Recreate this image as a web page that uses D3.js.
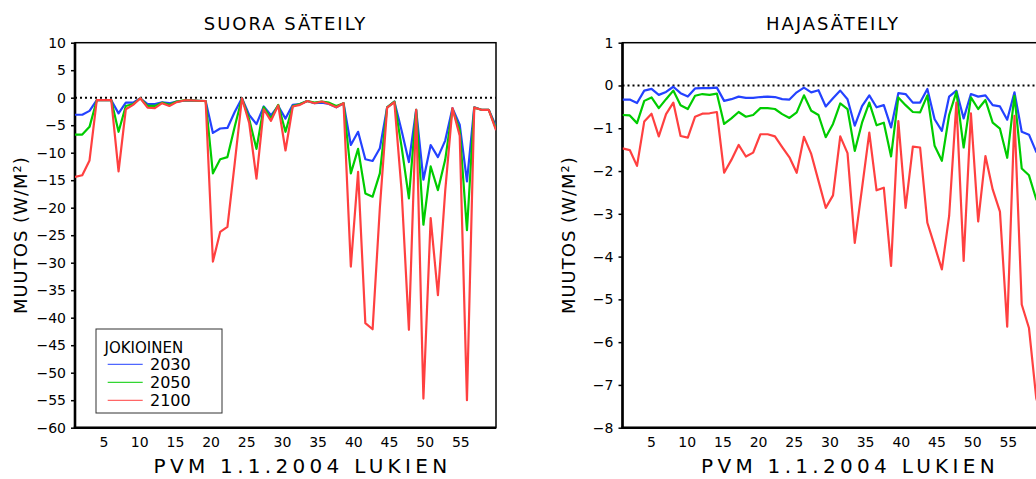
<!DOCTYPE html>
<meta charset="utf-8">
<style>
body { margin: 0; background: #fff; }
text { font-family: "DejaVu Sans", sans-serif; fill: #000; }
.line { fill: none; stroke-width: 2.2; stroke-linejoin: round; }
.zero { fill: none; stroke: #000; stroke-width: 2; stroke-dasharray: 2,3; }
.axis .domain { display: none; }
.axis line { stroke: #000; stroke-width: 1.5; }
.axis text { font-size: 14px; }
</style>
<body>
<svg width="1036" height="479"></svg>
<script src="https://d3js.org/d3.v7.min.js"></script>
<script>

var years = ["2030", "2050", "2100"];
var colors = ["#2442ff", "#00cc00", "#ff4040"];

var xTicks = [5, 10, 15, 20, 25, 30, 35, 40, 45, 50, 55];
var suoraTicks = [10, 5, 0, -5, -10, -15, -20, -25, -30, -35, -40, -45, -50, -55, -60];
var hajaTicks = [1, 0, -1, -2, -3, -4, -5, -6, -7, -8];

// suora säteily (direct radiation), W/m2
var suora2030 = [-3.1, -3.1, -2.4, -0.45, -0.45, -0.45, -2.85, -0.9, -0.9, -0.1,
  -1.15, -1.15, -0.85, -1.0, -0.7, -0.55, -0.5, -0.55, -0.6, -6.4,
  -5.6, -5.5, -2.6, -0.1, -3.15, -4.8, -1.6, -3.2, -1.5, -3.8,
  -1.3, -1.15, -0.6, -1.0, -0.9, -1.15, -1.75, -1.0, -8.6, -6.2,
  -11.2, -11.5, -9.2, -1.75, -0.7, -6.0, -11.7, -2.2, -14.9, -8.6,
  -10.8, -7.8, -1.9, -4.9, -15.2, -1.75, -2.2, -2.2, -5.2];
var suora2050 = [-6.7, -6.7, -5.3, -0.45, -0.45, -0.45, -6.2, -1.5, -1.15, -0.1,
  -1.5, -1.5, -0.9, -1.3, -0.7, -0.5, -0.5, -0.55, -0.6, -13.75,
  -11.2, -10.8, -5.3, -0.1, -3.9, -9.3, -1.7, -3.8, -1.3, -6.2,
  -1.5, -1.15, -0.6, -0.9, -0.7, -0.9, -1.5, -1.0, -13.75, -9.3,
  -17.4, -18.0, -13.75, -1.75, -0.7, -9.0, -18.3, -2.2, -23.1, -12.5,
  -16.8, -11.3, -2.1, -5.9, -24.1, -1.8, -2.2, -2.2, -5.6];
var suora2100 = [-14.4, -14.1, -11.4, -0.45, -0.45, -0.45, -13.4, -2.1, -1.3, -0.1,
  -1.8, -1.9, -1.0, -1.5, -0.8, -0.5, -0.5, -0.55, -0.6, -29.8,
  -24.4, -23.5, -12.0, -0.1, -4.6, -14.7, -2.1, -4.2, -1.4, -9.6,
  -1.6, -1.3, -0.6, -1.0, -0.7, -1.15, -1.75, -1.0, -30.7, -13.5,
  -41.0, -42.1, -20.0, -1.8, -0.8, -17.0, -42.2, -2.2, -54.7, -21.9,
  -35.9, -17.0, -1.9, -6.9, -55.0, -1.8, -2.2, -2.2, -5.9];

// hajasäteily (diffuse radiation), W/m2
var haja2030 = [-0.33, -0.33, -0.41, -0.12, -0.08, -0.22, -0.15, -0.03, -0.18, -0.26,
  -0.07, -0.06, -0.06, -0.05, -0.36, -0.32, -0.26, -0.29, -0.29, -0.27,
  -0.26, -0.27, -0.32, -0.33, -0.16, -0.05, -0.16, -0.11, -0.49, -0.3,
  -0.12, -0.32, -0.94, -0.48, -0.23, -0.51, -0.46, -0.98, -0.18, -0.2,
  -0.4, -0.4, -0.08, -0.79, -1.06, -0.26, -0.12, -0.77, -0.2, -0.26,
  -0.23, -0.46, -0.49, -0.8, -0.16, -1.08, -1.15, -1.55, -1.75];
var haja2050 = [-0.69, -0.70, -0.88, -0.36, -0.28, -0.53, -0.32, -0.12, -0.46, -0.55,
  -0.24, -0.20, -0.22, -0.19, -0.90, -0.77, -0.62, -0.73, -0.69, -0.53,
  -0.53, -0.55, -0.67, -0.76, -0.63, -0.23, -0.59, -0.69, -1.21, -0.9,
  -0.42, -0.55, -1.53, -0.87, -0.4, -0.93, -0.87, -1.66, -0.28, -0.46,
  -0.62, -0.63, -0.23, -1.41, -1.76, -0.69, -0.15, -1.45, -0.28, -0.55,
  -0.34, -0.87, -1.01, -1.69, -0.24, -1.94, -2.1, -2.66, -2.9];
var haja2100 = [-1.47, -1.51, -1.88, -0.84, -0.66, -1.19, -0.67, -0.40, -1.18, -1.22,
  -0.73, -0.66, -0.65, -0.62, -2.04, -1.74, -1.39, -1.66, -1.57, -1.14,
  -1.14, -1.19, -1.44, -1.68, -2.04, -1.20, -1.60, -2.23, -2.86, -2.57,
  -1.19, -1.58, -3.68, -2.4, -1.1, -2.45, -2.39, -4.22, -0.83, -2.86,
  -1.43, -1.45, -3.21, -3.75, -4.3, -3.05, -0.4, -4.1, -0.65, -3.18,
  -1.65, -2.43, -2.95, -5.64, -0.71, -5.12, -5.67, -7.31, -7.9];

var svg = d3.select("svg");

var top_ = 42.7, bottom = 427.7, pw = 421;

var panels = [
  { x0: 75, title: "SUORA SÄTEILY", domain: [-60, 10], ticks: suoraTicks,
    series: [suora2030, suora2050, suora2100], legend: true },
  { x0: 622.5, title: "HAJASÄTEILY", domain: [-8, 1], ticks: hajaTicks,
    series: [haja2030, haja2050, haja2100], legend: false }
];

function minus(d) { return d < 0 ? "\u2212" + (-d) : d; }

panels.forEach(function(p, pi) {
  var g = svg.append("g").attr("transform", "translate(" + p.x0 + ",0)");

  var n = p.series[0].length;
  // day axis and the data points spread over the same width
  var x = d3.scaleLinear().domain([1, 60]).range([0, pw]);
  var xp = d3.scalePoint().domain(d3.range(1, n + 1)).range([0, pw]);
  var y = d3.scaleLinear().domain(p.domain).range([bottom, top_]);

  g.append("clipPath").attr("id", "clip" + pi)
    .append("rect").attr("x", 0).attr("y", top_).attr("width", pw).attr("height", bottom - top_);

  // frame
  g.append("rect")
    .attr("x", 0).attr("y", top_).attr("width", pw).attr("height", bottom - top_)
    .attr("fill", "none").attr("stroke", "#000").attr("stroke-width", 1.5);
  g.append("line").attr("x1", 0).attr("x2", 0).attr("y1", top_).attr("y2", bottom)
    .attr("stroke", "#000").attr("stroke-width", 2.6);
  g.append("line").attr("x1", -1.3).attr("x2", pw).attr("y1", bottom).attr("y2", bottom)
    .attr("stroke", "#000").attr("stroke-width", 2.6);

  g.append("g").attr("class", "axis")
    .call(d3.axisLeft(y).tickValues(p.ticks).tickSize(4).tickPadding(5).tickFormat(minus));

  g.append("g").attr("class", "axis")
    .attr("transform", "translate(0," + bottom + ")")
    .call(d3.axisBottom(x).tickValues(xTicks).tickSize(0).tickPadding(9.5));

  g.append("line").attr("class", "zero")
    .attr("x1", 0).attr("x2", pw).attr("y1", y(0)).attr("y2", y(0));

  var line = d3.line()
    .x(function(d, i) { return xp(i + 1); })
    .y(function(d) { return y(d); });

  g.append("g").attr("clip-path", "url(#clip" + pi + ")")
    .selectAll("path")
    .data(p.series)
    .enter().append("path")
      .attr("class", "line")
      .attr("stroke", function(d, i) { return colors[i]; })
      .attr("d", line);

  g.append("text")
    .attr("x", pw / 2).attr("y", 30)
    .attr("text-anchor", "middle")
    .style("font-size", "18px").style("letter-spacing", "2px")
    .text(p.title);

  g.append("text")
    .attr("x", pw / 2 + 17).attr("y", 473)
    .attr("text-anchor", "middle")
    .style("font-size", "20px").style("letter-spacing", "4.3px")
    .text("PVM 1.1.2004 LUKIEN");

  g.append("text")
    .attr("transform", "translate(-54," + (top_ + bottom) / 2 + ") rotate(-90)")
    .attr("text-anchor", "middle").attr("dy", "0.35em")
    .style("font-size", "18px").style("letter-spacing", "1px")
    .text("MUUTOS (W/M²)");

  if (p.legend) {
    var lg = g.append("g").attr("transform", "translate(21,329)");
    lg.append("rect").attr("width", 126).attr("height", 84)
      .attr("fill", "#fff").attr("stroke", "#333").attr("stroke-width", 1);
    lg.append("text").attr("x", 8.5).attr("y", 23.5)
      .style("font-size", "15px").text("JOKIOINEN");
    var row = lg.selectAll(".row").data(years).enter().append("g")
      .attr("transform", function(d, i) { return "translate(0," + (35.3 + i * 18) + ")"; });
    row.append("line").attr("x1", 11.7).attr("x2", 46.7)
      .attr("stroke", function(d, i) { return colors[i]; })
      .attr("stroke-width", 1.3).attr("opacity", 0.8);
    row.append("text").attr("x", 54).attr("dy", "0.36em")
      .style("font-size", "16px").text(function(d) { return d; });
  }
});

</script>
</body>
